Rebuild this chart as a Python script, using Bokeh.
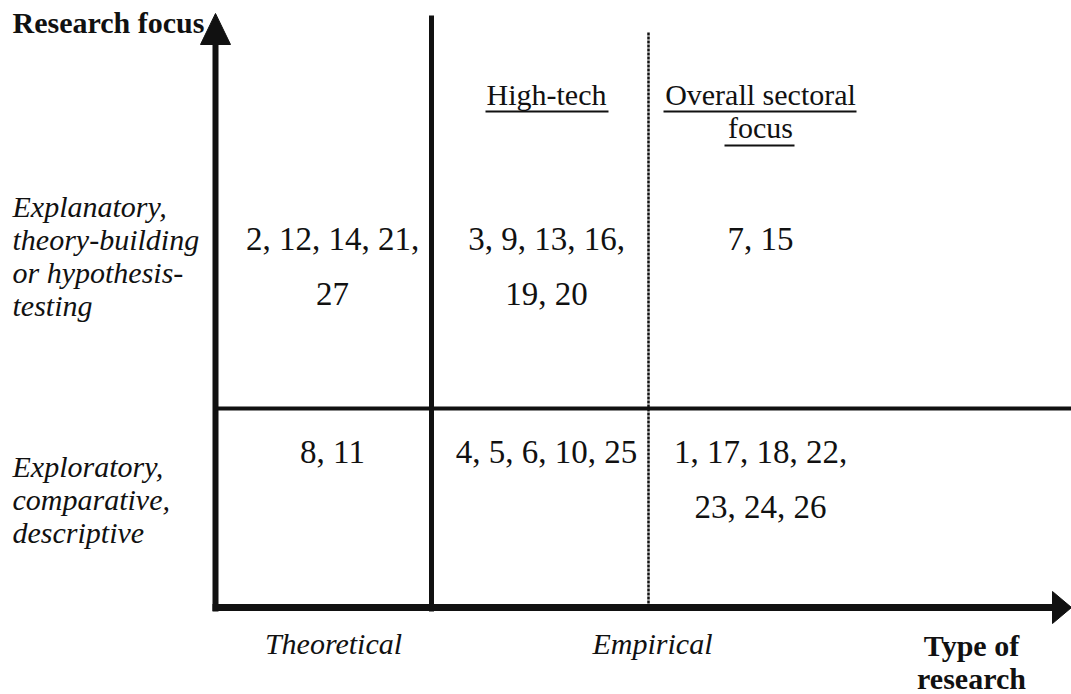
from bokeh.plotting import figure
from bokeh.models import Range1d
from bokeh.core.properties import value
from bokeh.embed import file_html
from bokeh.resources import INLINE

# ---- data ----
y_axis_title = "Research focus"
x_axis_title = ["Type of", "research"]
row_labels = [
    ["Explanatory,", "theory-building", "or hypothesis-", "testing"],
    ["Exploratory,", "comparative,", "descriptive"],
]
col_labels = ["Theoretical", "Empirical"]
sub_headers = [["High-tech"], ["Overall sectoral", "focus"]]
# cells[row][col] : list of text lines
cells = [
    [["2, 12, 14, 21,", "27"], ["3, 9, 13, 16,", "19, 20"], ["7, 15"]],
    [["8, 11"], ["4, 5, 6, 10, 25"], ["1, 17, 18, 22,", "23, 24, 26"]],
]

# ---- layout (picture pixel coordinates) ----
W, H = 1071, 694
INK = "#111111"
FONT = value("Liberation Serif")

p = figure(width=W, height=H, x_range=Range1d(0, W), y_range=Range1d(H, 0),
           output_backend="svg", toolbar_location=None,
           x_axis_location=None, y_axis_location=None, min_border=0)
p.grid.visible = False
p.outline_line_color = None
p.background_fill_color = "white"

ax_x, ax_y = 215, 607
col_div, sub_div, row_div = 431, 648, 408
col_centers = [332, 546, 760]


def txt(xs, baselines, texts, size, style="normal", align="center"):
    ys = [b - 0.34 * size for b in baselines]
    p.text(x=xs, y=ys, text=texts, text_font=FONT, text_font_size=value(f"{size}px"),
           text_font_style=style, text_color=INK, text_align=align,
           text_baseline="middle")


# axes
p.segment(x0=[ax_x], y0=[611], x1=[ax_x], y1=[40], line_width=6, line_color=INK)
p.segment(x0=[212], y0=[ax_y], x1=[1056], y1=[ax_y], line_width=7, line_color=INK)
p.patch(x=[215, 200, 230], y=[13, 44, 44], fill_color=INK, line_color=INK)
p.patch(x=[1071, 1052, 1052], y=[ax_y, 591, 623], fill_color=INK, line_color=INK)

# grid lines
p.segment(x0=[col_div], y0=[15], x1=[col_div], y1=[611], line_width=5, line_color=INK)
p.segment(x0=[ax_x], y0=[row_div], x1=[1071], y1=[row_div], line_width=4, line_color=INK)
p.segment(x0=[sub_div], y0=[32], x1=[sub_div], y1=[605], line_width=2.5,
          line_color=INK, line_dash="3 1")

# titles
txt([12], [32], [y_axis_title], 30, "bold", "left")
txt([971, 971], [655, 688], x_axis_title, 30, "bold")

# column labels
txt([333, 652], [653, 653], col_labels, 30, "italic")

# row labels
row_base = [216, 476]
for r, lines in enumerate(row_labels):
    txt([12] * len(lines), [row_base[r] + 33 * i for i in range(len(lines))],
        lines, 30, "italic", "left")

# sub headers with underline
for k, lines in enumerate(sub_headers):
    cx = col_centers[k + 1]
    txt([cx] * len(lines), [104 + 33 * i for i in range(len(lines))], lines, 30)
underl = {"High-tech": (485, 608), "Overall sectoral": (663, 856), "focus": (724, 794)}
ux0, ux1, uy = [], [], []
for k, lines in enumerate(sub_headers):
    for i, t in enumerate(lines):
        a, b = underl[t]
        ux0.append(a); ux1.append(b); uy.append(111 + 34 * i)
p.segment(x0=ux0, y0=uy, x1=ux1, y1=uy, line_width=2, line_color=INK)

# cells
cell_base = [250, 463]
for r, row in enumerate(cells):
    for c, lines in enumerate(row):
        txt([col_centers[c]] * len(lines), [cell_base[r] + 55 * i for i in range(len(lines))],
            lines, 33)

open("out.html", "w").write(file_html(p, INLINE))
